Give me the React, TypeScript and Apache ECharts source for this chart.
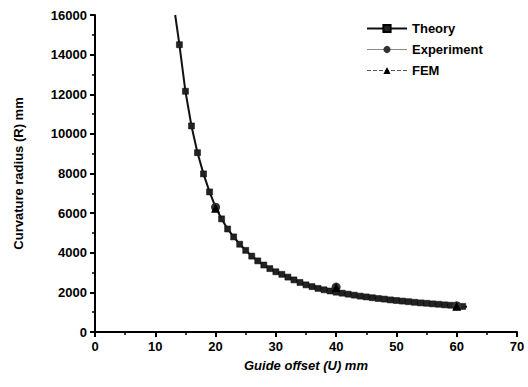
import React, { useEffect, useRef } from "react";
import * as echarts from "echarts";

const theoryU = [13.3, 14, 15, 16, 17, 18, 19, 20, 21, 22, 23, 24, 25, 26, 27, 28, 29, 30, 31, 32, 33, 34, 35, 36, 37, 38, 39, 40, 41, 42, 43, 44, 45, 46, 47, 48, 49, 50, 51, 52, 53, 54, 55, 56, 57, 58, 59, 60, 61, 61.7];
const theoryR = [16000, 14500, 12150, 10400, 9050, 7980, 7070, 6300, 5710, 5200, 4800, 4430, 4120, 3830, 3590, 3380, 3200, 3040, 2910, 2770, 2630, 2500, 2380, 2290, 2200, 2130, 2070, 2010, 1960, 1910, 1860, 1810, 1770, 1730, 1690, 1660, 1620, 1590, 1560, 1530, 1500, 1470, 1450, 1420, 1400, 1370, 1350, 1320, 1290, 1270];
const theoryMarked = [false, ...Array(48).fill(true), false];
const expU = [20, 40, 60];
const expR = [6300, 2270, 1320];
const femU = [20, 40, 60];
const femR = [6250, 2250, 1300];

export default function App() {
  const ref = useRef<HTMLDivElement>(null);
  useEffect(() => {
    const chart = echarts.init(ref.current!, null, { renderer: "svg" });
    const font = "'Liberation Sans', Arial, sans-serif";
    chart.setOption({
      animation: false,
      backgroundColor: "#fff",
      grid: { left: 95, right: 11, top: 15, bottom: 55 },
      legend: {
        orient: "vertical",
        left: 361,
        top: 17,
        itemWidth: 40,
        itemHeight: 9,
        itemGap: 8,
        textStyle: { fontFamily: font, fontWeight: "bold", fontSize: 13, color: "#000" },
        data: [
          { name: "Theory", lineStyle: { color: "#111", width: 2, opacity: 1 } },
          { name: "Experiment", lineStyle: { color: "#888", width: 1, opacity: 1 } },
          { name: "FEM", lineStyle: { color: "#555", width: 1, type: "dashed", opacity: 1 } },
        ],
      },
      xAxis: {
        type: "value",
        min: 0,
        max: 70,
        interval: 10,
        name: "Guide offset (U) mm",
        nameLocation: "middle",
        nameGap: 27,
        nameTextStyle: { fontFamily: font, fontWeight: "bold", fontStyle: "italic", fontSize: 13, color: "#000" },
        axisLine: { lineStyle: { color: "#000", width: 2 } },
        axisTick: { inside: false, length: 5, lineStyle: { color: "#000", width: 2 } },
        minorTick: { show: true, splitNumber: 2, length: 3, lineStyle: { color: "#000", width: 1.5 } },
        axisLabel: { margin: 8, fontFamily: font, fontWeight: "bold", fontSize: 13, color: "#000" },
        splitLine: { show: false },
      },
      yAxis: {
        type: "value",
        min: 0,
        max: 16000,
        interval: 2000,
        name: "Curvature radius (R) mm",
        nameLocation: "middle",
        nameGap: 70,
        nameTextStyle: { fontFamily: font, fontWeight: "bold", fontSize: 13, color: "#000" },
        axisLine: { show: true, lineStyle: { color: "#000", width: 2 } },
        axisTick: { show: true, inside: false, length: 5, lineStyle: { color: "#000", width: 2 } },
        minorTick: { show: true, splitNumber: 2, length: 3, lineStyle: { color: "#000", width: 1.5 } },
        axisLabel: {
          margin: 8,
          fontFamily: font,
          fontWeight: "bold",
          fontSize: 13,
          color: "#000",
          formatter: (v: number) => String(v),
        },
        splitLine: { show: false },
      },
      series: [
        {
          name: "Theory",
          type: "line",
          data: theoryU.map((u, i) => ({
            value: [u, theoryR[i]],
            symbol: theoryMarked[i] ? "rect" : "none",
          })),
          symbol: "rect",
          symbolSize: 6,
          showAllSymbol: true,
          lineStyle: { color: "#111", width: 2 },
          itemStyle: { color: "#222", borderColor: "#000", borderWidth: 0.5 },
          z: 2,
        },
        {
          name: "Experiment",
          type: "line",
          data: expU.map((u, i) => [u, expR[i]]),
          symbol: "circle",
          symbolSize: 9,
          showAllSymbol: true,
          lineStyle: { opacity: 0 },
          itemStyle: { color: "#333" },
          z: 3,
        },
        {
          name: "FEM",
          type: "line",
          data: femU.map((u, i) => [u, femR[i]]),
          symbol: "triangle",
          symbolSize: 9,
          showAllSymbol: true,
          lineStyle: { opacity: 0 },
          itemStyle: { color: "#000" },
          z: 4,
        },
      ],
    });
    return () => chart.dispose();
  }, []);
  return <div ref={ref} style={{ width: 528, height: 387, position: "absolute", left: 0, top: 0 }} />;
}
